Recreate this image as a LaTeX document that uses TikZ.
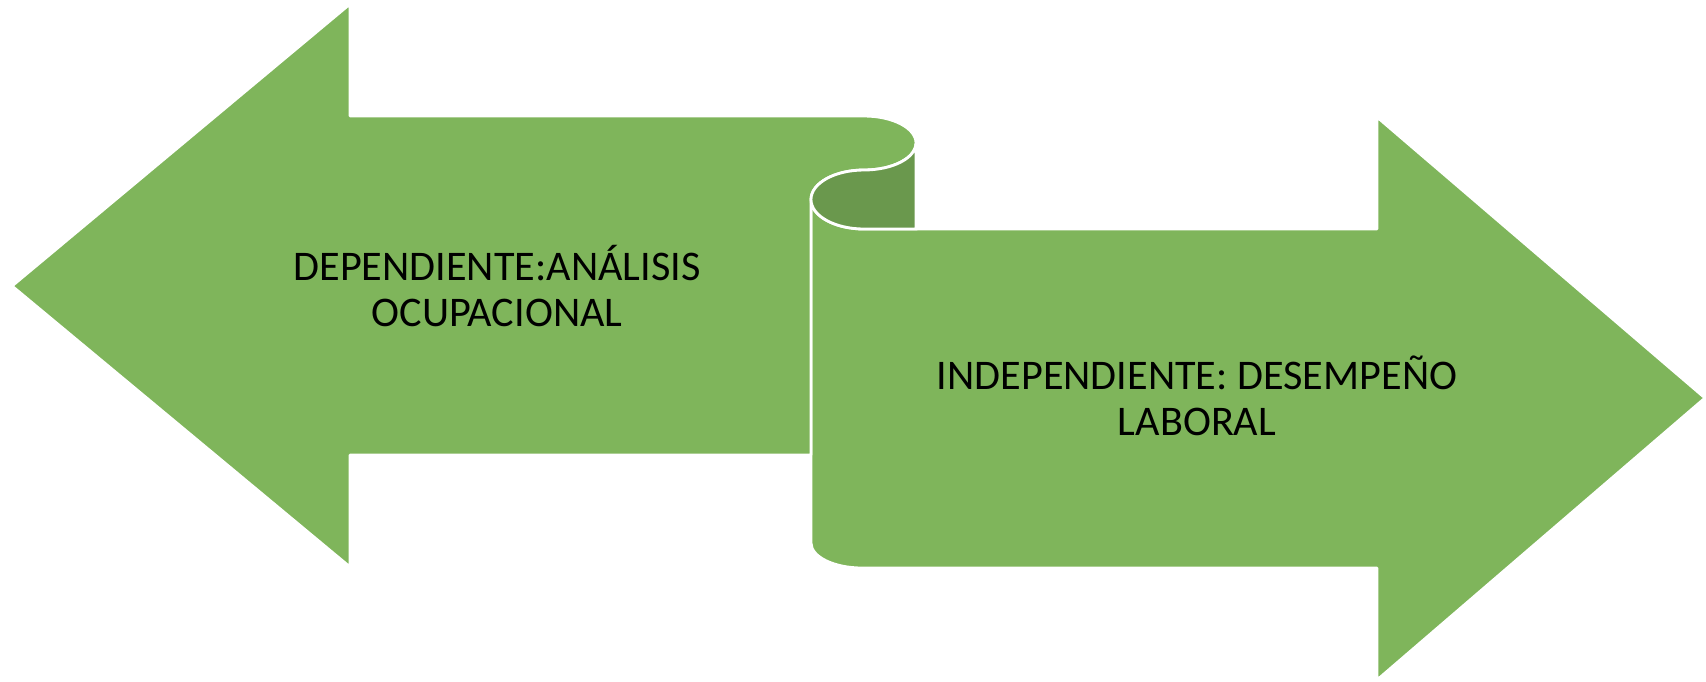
\documentclass[tikz,border=0pt]{standalone}
\usepackage{fontspec}
\setmainfont{Carlito}
\definecolor{leaf}{HTML}{7FB55B}
\definecolor{leafdark}{HTML}{6A984D}
\tikzset{
    band/.style = {
        fill=leaf,
        draw=white,
        line width=0.8pt,
        line join=round
    },
    fold/.style = {
        fill=leafdark,
        draw=white,
        line width=0.8pt
    },
    caption/.style = {
        align=center,
        font=\fontsize{12}{13}\selectfont
    }
}
\begin{document}
\begin{tikzpicture}[x=0.01cm, y=-0.01cm]
    \useasboundingbox (0,0) rectangle (1706,681);

    % Right arrow (scroll body)
    \draw[band] (811,199.5) -- (811,543)
        arc[start angle=180, end angle=90, x radius=51, y radius=25]
        -- (1377,568) -- (1377,680) -- (1705,398) -- (1377,117) -- (1377,229)
        -- (864,229)
        arc[start angle=90, end angle=180, x radius=53, y radius=29.5]
        -- cycle;

    % Left arrow
    \draw[band] (12,286) -- (350,4) -- (350,116) -- (864,116)
        arc[start angle=-90, end angle=90, x radius=52, y radius=27]
        arc[start angle=-90, end angle=-180, x radius=53, y radius=29.5]
        -- (811,455) -- (350,455) -- (350,567) -- cycle;

    % Curl
    \draw[fold] (916,143) -- (916,229) -- (864,229)
        arc[start angle=90, end angle=270, x radius=53, y radius=29.5]
        arc[start angle=90, end angle=0, x radius=52, y radius=27]
        -- cycle;

    % Labels
    \node[caption] (dep) at (497,286) {DEPENDIENTE:ANÁLISIS\\OCUPACIONAL};
    \node[caption] (indep) at (1197,396) {INDEPENDIENTE: DESEMPEÑO\\LABORAL};
\end{tikzpicture}
\end{document}
